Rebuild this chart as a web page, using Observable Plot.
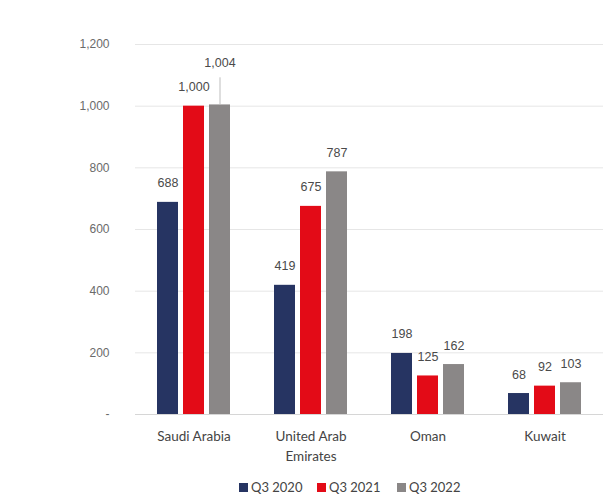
<!DOCTYPE html>
<html>
<head>
<meta charset="utf-8">
<script src="https://cdn.jsdelivr.net/npm/d3@7"></script>
<script src="https://cdn.jsdelivr.net/npm/@observablehq/plot@0.6"></script>
<style>
  html, body { margin: 0; padding: 0; background: #fff; }
  #chart svg { display: block; }
  .legend { position: relative; height: 21px; font-family: Lato, "Open Sans", sans-serif; font-size: 13px; color: #444; }
  .legend .item { position: absolute; top: 0; line-height: 24px; display: flex; align-items: center; white-space: nowrap; }
  .legend .sw { width: 9px; height: 9px; margin-right: 3px; display: inline-block; }
</style>
</head>
<body>
<div id="chart"></div>
<div class="legend" id="legend"></div>
<script>
const countries = ["Saudi Arabia", "United Arab Emirates", "Oman", "Kuwait"];
const periods = ["Q3 2020", "Q3 2021", "Q3 2022"];
const q3_2020 = [688, 419, 198, 68];
const q3_2021 = [1000, 675, 125, 92];
const q3_2022 = [1004, 787, 162, 103];
const yTicks = [0, 200, 400, 600, 800, 1000, 1200];
const colors = ["#263462", "#e30b17", "#8a8787"];

const series = [q3_2020, q3_2021, q3_2022];
const data = countries.flatMap((c, i) => periods.map((p, j) => ({country: c, period: p, value: series[j][i]})));
const fmt = d3.format(",");
const isMoved = d => d.country === "Saudi Arabia" && d.period === "Q3 2022";
const sans = "Liberation Sans, Arial, sans-serif";

const chart = Plot.plot({
  width: 603,
  height: 475,
  marginLeft: 135,
  marginRight: 0,
  marginTop: 44,
  marginBottom: 61,
  style: {fontFamily: sans, background: "#fff"},
  fx: {domain: countries, padding: 0, label: null},
  x: {domain: periods, paddingInner: 0.19, paddingOuter: 0.845, axis: null},
  y: {domain: [0, 1200], axis: null},
  color: {domain: periods, range: colors},
  marks: [
    Plot.ruleY(yTicks.filter(d => d > 0), {stroke: "#e6e6e6"}),
    Plot.ruleY([0], {stroke: "#d6d6d6"}),
    Plot.axisY(yTicks, {
      tickSize: 0, tickPadding: 26, fontSize: 12, fill: "#6a6a6a", label: null, fontFamily: sans,
      tickFormat: d => d === 0 ? "-" : fmt(d)
    }),
    Plot.axisFx({
      anchor: "bottom",
      tickSize: 0, tickPadding: 13, fontSize: 13.5, fill: "#444", label: null, lineHeight: 1.45,
      fontFamily: "Lato, 'Open Sans', sans-serif",
      tickFormat: d => d === "United Arab Emirates" ? "United Arab\nEmirates" : d
    }),
    Plot.barY(data, {fx: "country", x: "period", y: "value", fill: "period"}),
    Plot.text(data.filter(d => !isMoved(d)), {
      fx: "country", x: "period", y: "value", text: d => fmt(d.value),
      dy: -19, fontSize: 12.5, fill: "#4a4a4a", fontFamily: sans
    }),
    Plot.ruleX(data.filter(isMoved), {
      fx: "country", x: "period", y1: "value", y2: d => d.value + 88, stroke: "#bdbdbd", strokeWidth: 1
    }),
    Plot.text(data.filter(isMoved), {
      fx: "country", x: "period", y: "value", text: d => fmt(d.value),
      dy: -42, fontSize: 12.5, fill: "#4a4a4a", fontFamily: sans
    })
  ]
});
document.getElementById("chart").append(chart);

const legend = document.getElementById("legend");
const lefts = [239, 317, 397];
periods.forEach((p, i) => {
  const item = document.createElement("div");
  item.className = "item";
  item.style.left = lefts[i] + "px";
  const sw = document.createElement("span");
  sw.className = "sw";
  sw.style.background = colors[i];
  item.append(sw, document.createTextNode(p));
  legend.append(item);
});
</script>
</body>
</html>
